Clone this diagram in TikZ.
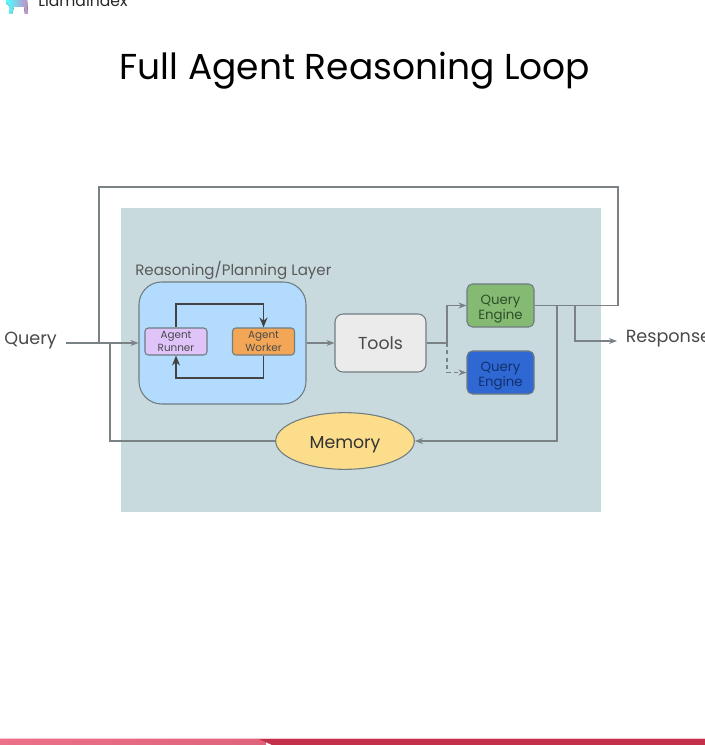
\documentclass[tikz,border=0pt]{standalone}
\usepackage{fontspec}
\setmainfont{Poppins}
\usetikzlibrary{arrows.meta,shapes.geometric,calc}
\definecolor{panel}{HTML}{C9DADF}
\definecolor{layer}{HTML}{B3DBFD}
\definecolor{runner}{HTML}{DFC3F9}
\definecolor{worker}{HTML}{F3A655}
\definecolor{toolsc}{HTML}{EBEBEB}
\definecolor{qeg}{HTML}{85BA72}
\definecolor{qeb}{HTML}{2F68D3}
\definecolor{mem}{HTML}{FBDD8C}
\definecolor{edge}{HTML}{6F7C80}
\definecolor{wire}{HTML}{7A8285}
\definecolor{txt}{HTML}{4A4A4A}
\definecolor{qegt}{HTML}{2F4F2A}
\definecolor{qebt}{HTML}{12306E}
\definecolor{barl}{HTML}{EC7088}
\definecolor{barm}{HTML}{E0637C}
\definecolor{barr}{HTML}{C42F4A}
\definecolor{barp}{HTML}{F6C9D2}
\tikzset{
  x=0.75pt,y=-0.75pt,
  box/.style={draw=edge,line width=0.8pt,inner sep=0pt,align=center,text=txt},
  small/.style={box,rounded corners=2.5pt,minimum width=46.5pt,minimum height=20.25pt,font=\fontsize{7.8}{9.4}\selectfont},
  engine/.style={box,rounded corners=4pt,minimum width=50.25pt,minimum height=32.25pt,font=\fontsize{10}{11.3}\selectfont},
  wirel/.style={draw=wire,line width=0.8pt},
  arr/.style={wirel,-{Stealth[length=6pt,width=4.5pt]}},
  loopw/.style={draw=txt!90!black,line width=1.2pt,-{Stealth[length=7.5pt,width=6pt]}},
  lab/.style={inner sep=0pt,text=txt,font=\fontsize{13.2}{15}\selectfont},
}
\begin{document}
\begin{tikzpicture}
\useasboundingbox (0,0) rectangle (705,745);
\fill[white] (0,0) rectangle (705,745);
% header logo, cut off at top
\begin{scope}
\clip (0,0) rectangle (705,745);
\fill[left color=cyan!70!white,right color=violet!45!white]
  (6,-1) -- (27,-1) -- (28,14) -- (25,14) -- (24,7) -- (14,7) -- (12,14) -- (9,14) -- (9,6) -- (6,3) -- cycle;
\node[anchor=base west,inner sep=0pt,text=black!85,font=\fontsize{11.7}{13}\selectfont] (logo) at (38,7) {LlamaIndex};
\end{scope}
\node[inner sep=0pt,text=black,font=\fontsize{27}{32}\selectfont,anchor=base] (title) at (355,80) {Full Agent Reasoning Loop};
% footer
\fill[barp] (0,738) rectangle (705,739);
\fill[left color=barl,right color=barm] (0,739) rectangle (266,745);
\fill[barr] (259,739) -- (705,739) -- (705,745) -- (272,745) -- cycle;
% panel
\fill[panel] (121,208) rectangle (601,512);
\node[lab,anchor=base west,font=\fontsize{11.3}{13}\selectfont,text=black!65] (ltitle) at (135,275) {Reasoning/Planning Layer};
\node[box,fill=layer,rounded corners=17pt,minimum width=125.25pt,minimum height=91.5pt] (layerbox) at (222.5,343) {};
\node[small,fill=runner] (run) at (176,341.5) {Agent\\Runner};
\node[small,fill=worker] (work) at (263.5,341.5) {Agent\\Worker};
\node[box,fill=toolsc,rounded corners=6pt,minimum width=68.25pt,minimum height=43.5pt,font=\fontsize{13}{15}\selectfont] (tools) at (380.5,343) {Tools};
\node[engine,fill=qeg,text=qegt] (qe1) at (500.5,305.5) {\rule{0pt}{12pt}Query\\Engine};
\node[engine,fill=qeb,text=qebt] (qe2) at (500.5,372.5) {\rule{0pt}{12pt}Query\\Engine};
\node[box,ellipse,fill=mem,minimum width=104pt,minimum height=42.5pt,font=\fontsize{13}{15}\selectfont,text=black!80] (memory) at (345,441) {\rule{0pt}{15pt}Memory};
\node[lab,anchor=base west] (query) at (4,344) {Query};
\node[lab,anchor=base west] (resp) at (625.5,342) {Response};
% coordinates
\coordinate (qin) at (66,343);
\coordinate (split) at (447,343);
\coordinate (tap1) at (575,305.5);
\coordinate (tap2) at (557,305.5);
\coordinate (respend) at (617,341);
% connectors
\draw[loopw] (run.north) -- (176,304) -- (263.5,304) -- (work.north);
\draw[loopw] (work.south) -- (263.5,378) -- (176,378) -- (run.south);
\draw[arr] (qin) -- (qin -| layerbox.west);
\draw[arr] (layerbox.east |- tools.west) -- (tools.west);
\draw[wirel] (tools.east |- split) -- (split);
\draw[arr] (split) -- (split |- qe1.west) -- (qe1.west);
\draw[arr,dash pattern=on 3pt off 2.5pt] (split) -- (split |- qe2.west) -- (qe2.west);
\draw[wirel] (qe1.east) -- (618,305.5) -- (618,187) -- (99,187) -- (99,343);
\draw[arr] (tap1) -- (tap1 |- respend) -- (respend);
\draw[arr] (tap2) -- (557,441) -- (memory.east);
\draw[wirel] (memory.west) -- (110,441) -- (110,343);
\end{tikzpicture}
\end{document}
